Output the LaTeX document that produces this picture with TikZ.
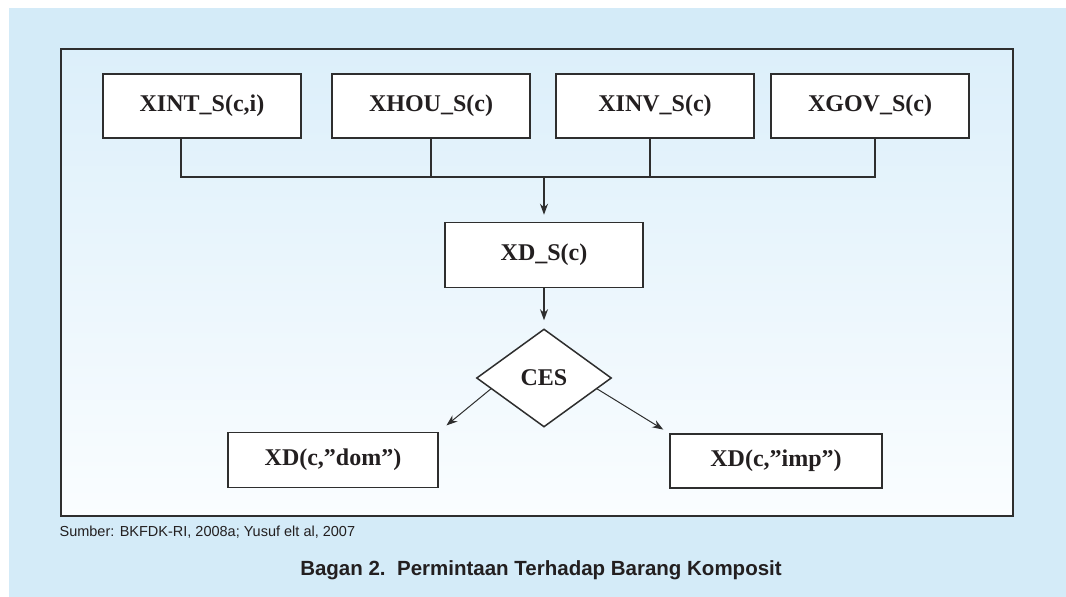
\documentclass[tikz,border=0pt]{standalone}
\usepackage{fontspec}
\setmainfont{Liberation Serif}
\newfontfamily\capfont{Liberation Sans}
\usetikzlibrary{shapes.geometric,arrows.meta,calc}

\definecolor{bgblue}{HTML}{D4EBF8}
\definecolor{frametop}{HTML}{DCEFFA}
\definecolor{framebot}{HTML}{FAFDFF}
\definecolor{linegray}{HTML}{2E2E2E}
\definecolor{textgray}{HTML}{231F20}

\begin{document}
\begin{tikzpicture}[draw=linegray, text=textgray, x=1pt, y=-1pt, line width=1.2pt, >={Stealth[length=11pt,width=8pt]}]
    \tikzstyle{box}=[draw, fill=white, line width=1.5pt, inner sep=0pt, minimum width=198pt, minimum height=64pt, font=\fontsize{24}{28}\selectfont\bfseries];
    \tikzstyle{ces}=[box, diamond, minimum width=135pt, minimum height=98pt];

    \useasboundingbox (0,0) rectangle (1066,597);
    \fill[bgblue] (9,8) rectangle (1066,597);
    \shade[top color=frametop, bottom color=framebot] (61,49) rectangle (1013,516);
    \draw (61,49) rectangle (1013,516);

    \node at (202,106) (xint) [box] {XINT\_S(c,i)};
    \node at (431,106) (xhou) [box] {XHOU\_S(c)};
    \node at (655,106) (xinv) [box] {XINV\_S(c)};
    \node at (870,106) (xgov) [box] {XGOV\_S(c)};
    \node at (544,255) (xds)  [box, minimum height=65pt] {XD\_S(c)};
    \node at (544,378) (ces)  [ces] {CES};
    \node at (333,460) (xdd)  [box, minimum width=210pt, minimum height=55pt] {XD(c,”dom”)};
    \node at (776,461) (xdi)  [box, minimum width=212pt, minimum height=54pt] {XD(c,”imp”)};

    \node at (59,532)  (src) [anchor=west, inner sep=0pt, font=\capfont\fontsize{14.5}{17}\selectfont] {Sumber: BKFDK-RI, 2008a; Yusuf elt al, 2007};
    \node at (541,570) (cap) [inner sep=0pt, font=\capfont\bfseries\fontsize{20.5}{24}\selectfont] {Bagan 2.\ \ Permintaan Terhadap Barang Komposit};

    \coordinate (busl) at (181,177);
    \coordinate (busr) at (875,177);
    \draw (xint.south -| busl) -- (busl) -- (busr) -- (xgov.south -| busr);
    \draw[line width=2.8pt] (xhou.south) -- (xhou.south |- busl);
    \draw[line width=2.8pt] ([xshift=-5pt]xinv.south) -- ([xshift=-5pt]xinv.south |- busl);

    \draw[->, shorten >=7pt] (xds.north |- busl) -- (xds.north);
    \draw[->, shorten >=8pt] (xds.south) -- (ces.north);
    \draw[->, line width=1pt, shorten >=10pt] ($(ces.west)!0.22!(ces.south)$) -- (xdd.north east);
    \draw[->, line width=1pt, shorten >=7pt] ($(ces.east)!0.22!(ces.south)$) -- (xdi.north west);
\end{tikzpicture}
\end{document}
